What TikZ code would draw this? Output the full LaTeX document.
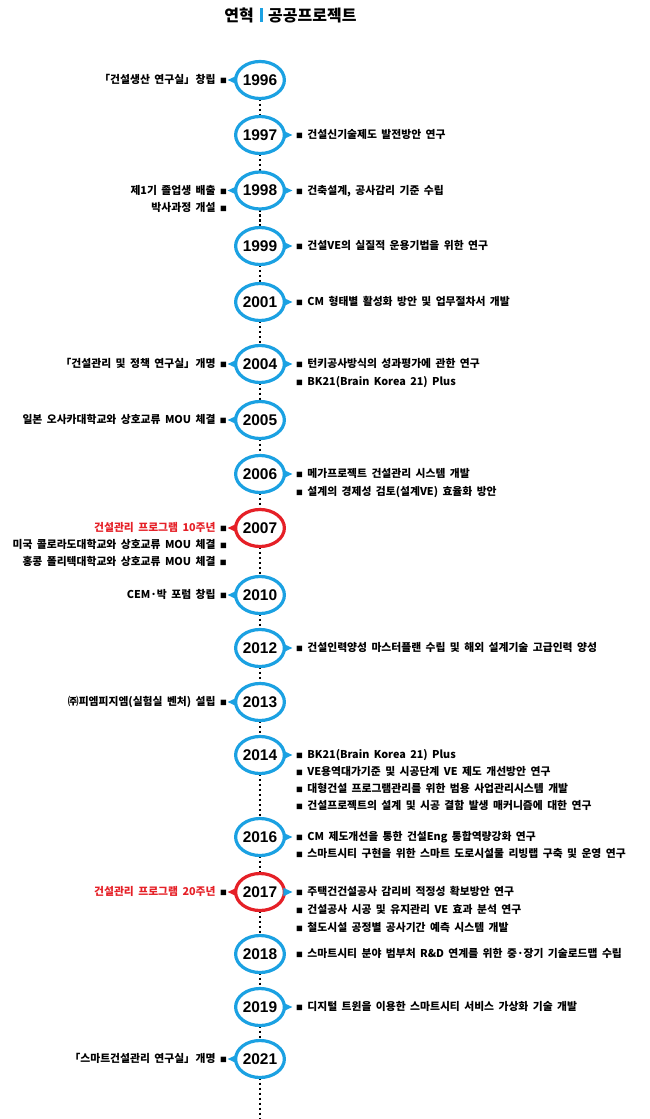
\documentclass[tikz,border=0pt]{standalone}
\usepackage{fontspec}
\setmainfont{Noto Sans CJK KR}[WordSpace=1.8]
\newfontfamily\yrfam{Liberation Sans}
\usetikzlibrary{shapes.geometric,backgrounds}
\definecolor{cblue}{RGB}{27,161,226}
\definecolor{cred}{RGB}{229,32,39}
\newcommand\sq{{\fontsize{6.8}{6.8}\selectfont ■}}
\newcommand\cl{」\kern-0.35em}
\newcommand\txtf{\bfseries\fontsize{10.8}{12}\selectfont}
\newcommand\yrf{\yrfam\bfseries\fontsize{15.5}{15.5}\selectfont}
\newcommand\ttlf{\bfseries\fontsize{16}{16}\selectfont}
\newcommand\ltri[2]{\fill[#2] ([xshift=1pt]#1.west) ++(0,4.2) -- ++(-9,-4.2) -- ++(9,-4.2) -- cycle;}
\newcommand\rtri[2]{\fill[#2] ([xshift=-1pt]#1.east) ++(0,4.2) -- ++(9,-4.2) -- ++(-9,-4.2) -- cycle;}
\tikzset{
  yc/.style={ellipse, draw=cblue, fill=white, line width=3.2pt, minimum width=42pt, minimum height=37pt, inner sep=0pt, outer sep=0pt, font=\yrf},
  ycr/.style={yc, draw=cred},
  rt/.style={anchor=base west, inner sep=0pt, font=\txtf},
  lt/.style={anchor=base east, inner sep=0pt, font=\txtf},
  dotl/.style={line width=2.6pt, dash pattern=on 2.6pt off 2.4pt, black}
}
\newcommand\R[3]{\node[rt] (#1) at (296,#2+3.9) {\sq\ #3};}
\newcommand\LL[3]{\node[lt] (#1) at (227,#2+3.9) {#3\ \sq};}
\begin{document}
\begin{tikzpicture}[x=1pt,y=-1pt]
\useasboundingbox (0,0) rectangle (650,1119);
% title
\node[anchor=base east, inner sep=0pt, font=\ttlf] (t1) at (254,21) {연혁};
\fill[cblue] (259.5,8) rectangle (262.5,22);
\node[anchor=base west, inner sep=0pt, font=\ttlf] (t2) at (268,21) {공공프로젝트};
% year nodes
\node[yc] (y96) at (260,80) {1996};
\node[yc] (y97) at (260,135) {1997};
\node[yc] (y98) at (260,190.5) {1998};
\node[yc] (y99) at (260,246) {1999};
\node[yc] (y01) at (260,302) {2001};
\node[yc] (y04) at (260,364) {2004};
\node[yc] (y05) at (260,420) {2005};
\node[yc] (y06) at (260,474) {2006};
\node[ycr] (y07) at (260,528) {2007};
\node[yc] (y10) at (260,595) {2010};
\node[yc] (y12) at (260,648) {2012};
\node[yc] (y13) at (260,702) {2013};
\node[yc] (y14) at (260,755) {2014};
\node[yc] (y16) at (260,837) {2016};
\node[ycr] (y17) at (260,892) {2017};
\node[yc] (y18) at (260,954) {2018};
\node[yc] (y19) at (260,1007) {2019};
\node[yc] (y21) at (260,1059) {2021};
\coordinate (bot) at (260,1119);
\begin{scope}[on background layer]
\foreach \a/\b in {y96/y97,y97/y98,y98/y99,y99/y01,y01/y04,y04/y05,y05/y06,y06/y07,y07/y10,y10/y12,y12/y13,y13/y14,y14/y16,y16/y17,y17/y18,y18/y19,y19/y21,y21/bot}
  \draw[dotl] (\a) -- (\b);
\end{scope}
% triangles
\ltri{y96}{cblue} \ltri{y98}{cblue} \ltri{y04}{cblue} \ltri{y05}{cblue}
\ltri{y07}{cred} \ltri{y10}{cblue} \ltri{y13}{cblue} \ltri{y17}{cred} \ltri{y21}{cblue}
\rtri{y97}{cblue} \rtri{y98}{cblue} \rtri{y99}{cblue} \rtri{y01}{cblue} \rtri{y04}{cblue}
\rtri{y06}{cblue} \rtri{y12}{cblue} \rtri{y14}{cblue} \rtri{y16}{cblue} \rtri{y17}{cblue} \rtri{y19}{cblue}
% right texts
\R{r97}{135}{건설신기술제도 발전방안 연구}
\R{r98}{190.5}{건축설계, 공사감리 기준 수립}
\R{r99}{246}{건설VE의 실질적 운용기법을 위한 연구}
\R{r01}{302}{CM 형태별 활성화 방안 및 업무절차서 개발}
\R{r04a}{364}{턴키공사방식의 성과평가에 관한 연구}
\R{r04b}{381.5}{BK21(Brain Korea 21) Plus}
\R{r06a}{474}{메가프로젝트 건설관리 시스템 개발}
\R{r06b}{491.5}{설계의 경제성 검토(설계VE) 효율화 방안}
\R{r12}{648}{건설인력양성 마스터플랜 수립 및 해외 설계기술 고급인력 양성}
\R{r14a}{755}{BK21(Brain Korea 21) Plus}
\R{r14b}{772}{VE용역대가기준 및 시공단계 VE 제도 개선방안 연구}
\R{r14c}{789}{대형건설 프로그램관리를 위한 범용 사업관리시스템 개발}
\R{r14d}{806}{건설프로젝트의 설계 및 시공 결함 발생 매커니즘에 대한 연구}
\R{r16a}{837}{CM 제도개선을 통한 건설Eng 통합역량강화 연구}
\R{r16b}{854}{스마트시티 구현을 위한 스마트 도로시설물 리빙랩 구축 및 운영 연구}
\R{r17a}{892}{주택건건설공사 감리비 적정성 확보방안 연구}
\R{r17b}{910}{건설공사 시공 및 유지관리 VE 효과 분석 연구}
\R{r17c}{927.5}{철도시설 공정별 공사기간 예측 시스템 개발}
\R{r18}{954}{스마트시티 분야 범부처 R\&D 연계를 위한 중·장기 기술로드맵 수립}
\R{r19}{1007}{디지털 트윈을 이용한 스마트시티 서비스 가상화 기술 개발}
% left texts
\LL{l96}{80}{「건설생산 연구실\cl{} 창립}
\LL{l98a}{190.5}{제1기 졸업생 배출}
\LL{l98b}{207.5}{박사과정 개설}
\LL{l04}{364}{「건설관리 및 정책 연구실\cl{} 개명}
\LL{l05}{420}{일본 오사카대학교와 상호교류 MOU 체결}
\LL{l07a}{528}{\textcolor{cred}{건설관리 프로그램 10주년}}
\LL{l07b}{545}{미국 콜로라도대학교와 상호교류 MOU 체결}
\LL{l07c}{562}{홍콩 폴리텍대학교와 상호교류 MOU 체결}
\LL{l10}{595}{CEM·박 포럼 창립}
\LL{l13}{702}{㈜피엠피지엠(실험실 벤처) 설립}
\LL{l17}{892}{\textcolor{cred}{건설관리 프로그램 20주년}}
\LL{l21}{1059}{「스마트건설관리 연구실\cl{} 개명}
\end{tikzpicture}
\end{document}
